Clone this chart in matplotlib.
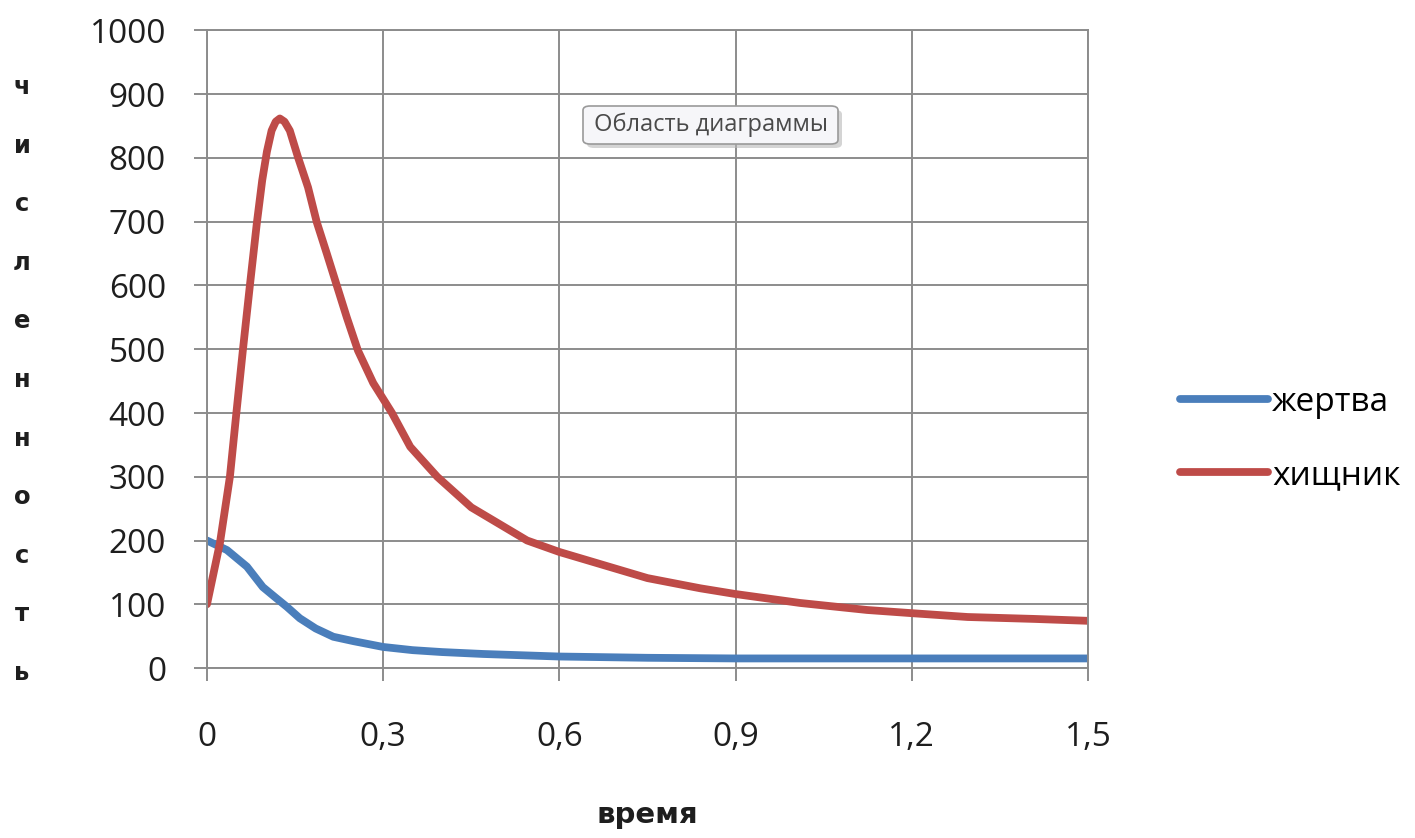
import matplotlib.pyplot as plt
from matplotlib.patches import FancyBboxPatch
from matplotlib.ticker import FuncFormatter

# values
time_prey = [0, 0.034, 0.068, 0.095, 0.116, 0.136, 0.158, 0.185, 0.215, 0.25,
             0.30, 0.35, 0.40, 0.47, 0.60, 0.75, 0.90, 1.2, 1.5]
prey = [200, 185, 159, 127, 111, 96, 78, 62, 49, 42,
        33, 28, 25, 22, 18, 16, 15, 15, 15]

time_pred = [0, 0.022, 0.039, 0.05, 0.061, 0.073, 0.085, 0.094, 0.102, 0.11,
             0.117, 0.124, 0.132, 0.141, 0.155, 0.172, 0.187, 0.204, 0.221,
             0.238, 0.257, 0.283, 0.315, 0.346, 0.392, 0.45, 0.545, 0.6, 0.75,
             0.84, 0.9, 1.01, 1.124, 1.2, 1.295, 1.408, 1.5]
predator = [100, 196, 300, 400, 498, 600, 699, 765, 810, 843,
            857, 862, 857, 843, 801, 754, 699, 650, 600,
            550, 498, 447, 400, 347, 300, 252, 200, 182, 141,
            125, 116, 102, 91, 86, 80, 77, 74]

x_ticks = [0, 0.3, 0.6, 0.9, 1.2, 1.5]
y_ticks = list(range(0, 1001, 100))
series_names = ['жертва', 'хищник']
y_title = 'численность'
x_title = 'время'
tooltip = 'Область диаграммы'

blue = '#4a7ebb'
red = '#be4b48'
grid_col = '#8c8c8c'
text_col = '#1e1e1e'

W, H = 1415, 838
fig = plt.figure(figsize=(W / 100, H / 100), dpi=100)
fig.patch.set_facecolor('white')
ax = fig.add_axes([207 / W, 1 - 668 / H, (1088 - 207) / W, (668 - 30.5) / H])

l1, = ax.plot(time_prey, prey, color=blue, lw=5.6, solid_capstyle='round',
              solid_joinstyle='round', label=series_names[0])
l2, = ax.plot(time_pred, predator, color=red, lw=5.6, solid_capstyle='round',
              solid_joinstyle='round', label=series_names[1])

ax.set_xlim(0, 1.5)
ax.set_ylim(0, 1000)
ax.set_xticks(x_ticks)
ax.set_yticks(y_ticks)
ax.xaxis.set_major_formatter(FuncFormatter(lambda v, p: ('%g' % v).replace('.', ',')))
ax.grid(True, color=grid_col, lw=1.4)
ax.set_axisbelow(True)
for s in ax.spines.values():
    s.set_color(grid_col)
    s.set_linewidth(1.4)
ax.tick_params(axis='both', direction='out', length=9.5, width=1.4, color=grid_col,
               labelsize=24, labelcolor=text_col)
ax.tick_params(axis='x', pad=29)
ax.tick_params(axis='y', pad=20)
for lab in ax.get_xticklabels() + ax.get_yticklabels():
    lab.set_fontfamily('Open Sans')

# vertical axis title, one letter per line
for i, ch in enumerate(y_title):
    fig.text(22 / W, 1 - (87 + i * 58.6) / H, ch, fontsize=17.5, fontweight='bold',
             ha='center', va='center', color=text_col)

fig.text(647 / W, 1 - 815 / H, x_title, fontsize=21, fontweight='bold',
         ha='center', va='center', color=text_col)

fig.legend(handles=[l1, l2], loc='center left', bbox_to_anchor=(1180 / W, 1 - 439 / H),
           frameon=False, borderpad=0, borderaxespad=0, handlelength=2.65,
           handletextpad=0.12, labelspacing=1.2,
           prop={'family': 'Open Sans', 'size': 24})

# tooltip box
shadow = FancyBboxPatch((587 / W, 1 - 148 / H), 255 / W, 38 / H,
                        boxstyle='round,pad=0,rounding_size=0.005',
                        transform=fig.transFigure, fc='#b8b8b8', ec='none', alpha=0.6)
box = FancyBboxPatch((583 / W, 1 - 144 / H), 255 / W, 38 / H,
                     boxstyle='round,pad=0,rounding_size=0.005',
                     transform=fig.transFigure, fc='#f6f6f9', ec='#9a9a9a', lw=1.2)
fig.patches.extend([shadow, box])
fig.text(711 / W, 1 - 125 / H, tooltip, fontsize=17, ha='center', va='center',
         color='#4a4a4a', family='Open Sans')

fig.savefig('out.png', dpi=100)
